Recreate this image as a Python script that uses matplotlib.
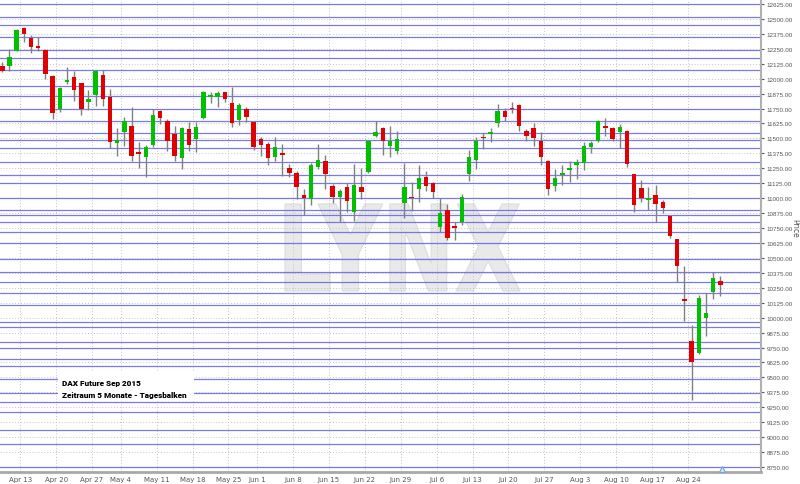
import numpy as np
import pandas as pd
import matplotlib
matplotlib.use("Agg")
import matplotlib.pyplot as plt
from matplotlib.textpath import TextPath
from matplotlib.patches import PathPatch, Rectangle
from matplotlib.font_manager import FontProperties
from matplotlib.transforms import Affine2D

# trading days (Eurex closed on May 1 and Whit Monday)
dates = pd.bdate_range('2015-04-08', '2015-08-28')
dates = dates[~dates.isin(pd.to_datetime(['2015-05-01', '2015-05-25']))]

opens = [12104, 12109, 12234, 12424, 12340, 12276, 12240, 12020, 11746, 11970,
         12017, 11964, 11807, 11863, 12031, 11849, 11464, 11551, 11606, 11389,
         11342, 11445, 11727, 11648, 11537, 11334, 11579, 11495, 11668, 11849,
         11849, 11886, 11796, 11654, 11746, 11640, 11495, 11453, 11347, 11378,
         11252, 11208, 11029, 10993, 11263, 11308, 11099, 11007, 11091, 10882,
         11096, 11216, 11523, 11587, 11439, 11397, 10957, 11012, 11077, 11174,
         11127, 10761, 10901, 10764, 10798, 11202, 11322, 11514, 11537, 11626,
         11729, 11755, 11780, 11565, 11585, 11481, 11313, 11099, 11191, 11238,
         11277, 11292, 11426, 11481, 11606, 11585, 11551, 11565, 11202, 11082,
         10982, 11026, 10970, 10848, 10658, 10153, 9802, 9701, 9994, 10217, 10309]
highs = [12142, 12248, 12415, 12430, 12366, 12346, 12245, 12031, 11933, 12095,
         12067, 11964, 11908, 12067, 12075, 11914, 11585, 11677, 11760, 11467,
         11445, 11746, 11738, 11660, 11601, 11595, 11635, 11635, 11894, 11886,
         11899, 11891, 11933, 11794, 11765, 11645, 11514, 11467, 11514, 11453,
         11286, 11225, 11077, 11297, 11453, 11364, 11118, 11077, 11124, 11286,
         11250, 11487, 11648, 11593, 11606, 11565, 11294, 11138, 11277, 11230,
         11138, 10999, 10951, 10803, 11035, 11403, 11514, 11543, 11585, 11788,
         11752, 11802, 11785, 11579, 11626, 11551, 11319, 11244, 11277, 11313,
         11328, 11467, 11481, 11654, 11668, 11593, 11621, 11573, 11205, 11154,
         11091, 11110, 10984, 10853, 10662, 10435, 9938, 10189, 10206, 10379, 10346]
lows = [12053, 12067, 12230, 12309, 12215, 12234, 11997, 11662, 11724, 11955,
        11816, 11698, 11740, 11774, 11774, 11417, 11355, 11439, 11313, 11250,
        11174, 11426, 11618, 11397, 11308, 11244, 11397, 11389, 11665, 11794,
        11765, 11802, 11593, 11615, 11640, 11405, 11355, 11277, 11308, 11188,
        11174, 10993, 10861, 10945, 11244, 11077, 10957, 10798, 10882, 10806,
        10993, 11208, 11514, 11361, 11347, 11370, 10834, 10895, 10970, 11062,
        10999, 10719, 10652, 10650, 10778, 11141, 11244, 11411, 11472, 11598,
        11648, 11713, 11565, 11476, 11434, 11277, 11026, 11062, 11110, 11133,
        11160, 11236, 11378, 11472, 11523, 11481, 11417, 11258, 10887, 10970,
        10903, 10803, 10873, 10664, 10301, 9974, 9313, 9695, 9844, 10156, 10178]
closes = [12067, 12184, 12407, 12376, 12263, 12259, 12039, 11713, 11919, 11989,
          11905, 11746, 11827, 12062, 11830, 11472, 11484, 11648, 11355, 11370,
          11431, 11698, 11673, 11481, 11350, 11587, 11445, 11598, 11886, 11863,
          11878, 11830, 11626, 11782, 11682, 11426, 11445, 11336, 11426, 11361,
          11210, 11091, 10999, 11277, 11322, 11202, 11012, 11057, 10979, 11110,
          11049, 11476, 11551, 11481, 11481, 11495, 11096, 10999, 11166, 11099,
          11049, 10876, 10666, 10753, 11007, 11342, 11481, 11501, 11551, 11729,
          11677, 11744, 11606, 11518, 11503, 11342, 11077, 11166, 11208, 11250,
          11305, 11434, 11459, 11643, 11587, 11495, 11593, 11286, 10943, 10999,
          10999, 10951, 10915, 10686, 10430, 10142, 9631, 10162, 10036, 10329, 10273]

# support / resistance lines
levels = [12625, 12520, 12449, 12351, 12243, 12170, 12070, 11936, 11858, 11749,
          11646, 11545, 11483, 11420, 11303, 11198, 11125, 10999, 10903, 10859,
          10799, 10717, 10626, 10488, 10378, 10301, 10204, 10106, 9961, 9922,
          9794, 9750, 9655, 9595, 9484, 9373, 9295, 9208, 9062, 8943, 8754]

title_lines = ["DAX Future Sep 2015", "Zeitraum 5 Monate - Tagesbalken"]

fig = plt.figure(figsize=(8, 4.85), dpi=100)
ax = fig.add_axes([0, 12 / 485, 761 / 800, 473 / 485])

o = np.array(opens); h = np.array(highs); l = np.array(lows); c = np.array(closes)
x = np.arange(len(dates))
up = c >= o
cols = np.where(up, '#00c000', '#e00000')

# gridlines
yt = np.arange(8750, 12626, 125)
ax.set_yticks(yt)
ax.set_yticklabels([f"{v:.2f}" for v in yt])
week_start = [i for i in range(1, len(dates)) if dates[i].weekday() < dates[i - 1].weekday()]
mondays = [dates[i] - pd.Timedelta(days=dates[i].weekday()) for i in week_start]
ax.set_xticks([i - 0.5 for i in week_start])
ax.set_xticklabels([d.strftime('%b ') + str(d.day) for d in mondays])
ax.grid(True, ls=(0, (1, 2)), color='#c4c4c4', lw=0.7, zorder=0)
ax.set_axisbelow(True)

# LYNX watermark
tp = TextPath((0, 0), "LYNX", size=1, prop=FontProperties(family='DejaVu Sans', weight='bold'))
ext = tp.get_extents()
x0, x1 = 285 / 761, 520 / 761
y0, y1 = (473 - 292) / 473, (473 - 205) / 473
tr = Affine2D().translate(-ext.x0, -ext.y0).scale((x1 - x0) / ext.width, (y1 - y0) / ext.height) \
    .translate(x0, y0) + ax.transAxes
ax.add_patch(PathPatch(tp, transform=tr, fc='#e9e9e9', ec='#dcdcdc', lw=0.8, zorder=0.5))

for lv in levels:
    ax.axhline(lv, color='#6262e4', lw=0.9, alpha=0.85, zorder=1)

# text box
ax.add_patch(Rectangle((58 / 761, (473 - 401) / 473), 136 / 761, 29 / 473,
                       transform=ax.transAxes, fc='white', ec='none', zorder=2))
tfont = ['Roboto', 'DejaVu Sans']
ax.text(62 / 761, (473 - 384) / 473, title_lines[0], transform=ax.transAxes, family=tfont,
        fontweight='heavy', fontsize=5.9, color='black', va='center', ha='left', zorder=3)
ax.text(62 / 761, (473 - 396) / 473, title_lines[1], transform=ax.transAxes, family=tfont,
        fontweight='heavy', fontsize=5.9, color='black', va='center', ha='left', zorder=3)

# candles
ax.vlines(x, l, h, color='#808080', lw=1.0, zorder=3)
body = np.maximum(np.abs(c - o), 14)
ax.bar(x, body, bottom=np.minimum(o, c), width=0.62, color=cols, zorder=4, linewidth=0)

ax.set_xlim(-0.32, 105.67)
ax.set_ylim(8708, 12667)

ax.yaxis.tick_right()
ax.tick_params(axis='y', labelsize=4.5, colors='#555555', length=2, pad=2)
ax.tick_params(axis='x', labelsize=5, colors='#555555', length=0, pad=3)
for lab in ax.get_yticklabels():
    lab.set_family(['Liberation Sans', 'DejaVu Sans'])
for s in ['top', 'left']:
    ax.spines[s].set_visible(False)
ax.spines['right'].set_color('#b0b0b0')
ax.spines['right'].set_linewidth(1.5)
ax.spines['bottom'].set_color('#a8a8a8')
ax.spines['bottom'].set_linewidth(2)

# small marker at the bottom right
ax.plot([100.3], [8735], marker='^', ms=5, mfc='#cfe3f7', mec='#6fa8dc', mew=0.8, zorder=5)

fig.text(795 / 800, 1 - 228 / 485, "Price", rotation=270, fontsize=5.5, color='#555555',
         ha='center', va='center')

fig.savefig('out.png', dpi=100, facecolor='white')
